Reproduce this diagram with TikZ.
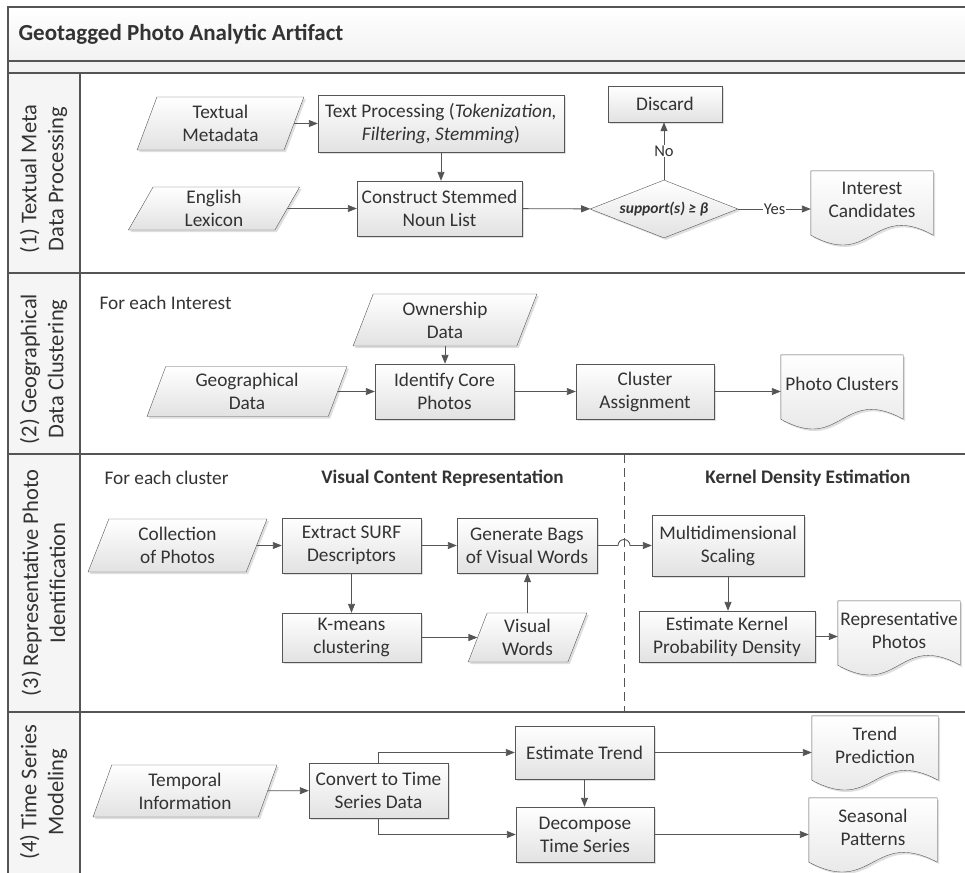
\documentclass[tikz,border=0pt]{standalone}
\usepackage{fontspec}
\setmainfont{Carlito}
\usepackage{tikz}
\usetikzlibrary{shapes.geometric, arrows.meta, positioning, calc, backgrounds, shadows}
\definecolor{lineclr}{HTML}{555555}
\definecolor{textclr}{HTML}{333333}
\definecolor{boxbot}{HTML}{E2E2E2}
\definecolor{laneclr}{HTML}{F2F2F2}

% wavy document outline round a named node
\newcommand{\docshape}[1]{%
  \draw[docpath] (#1.north west) -- (#1.north east) -- ($(#1.south east)+(0pt,-6pt)$)
    .. controls ($(#1.south east)!0.5!(#1.south west)+(0pt,28pt)$)
    and ($(#1.south east)!0.5!(#1.south west)+(0pt,-40pt)$)
    .. ($(#1.south west)+(0pt,-6pt)$) -- cycle;}

\begin{document}
\begin{tikzpicture}[x=1pt, y=-1pt,
  font=\fontsize{19.3}{23}\selectfont, text=textclr,
  shade/.style={top color=white, bottom color=boxbot,
    drop shadow={shadow xshift=2pt, shadow yshift=-2pt, opacity=0.25}},
  proc/.style={rectangle, draw=lineclr, shade, align=center, inner sep=1pt,
    minimum width=139pt, minimum height=55pt},
  data/.style={trapezium, trapezium left angle=72, trapezium right angle=108,
    trapezium stretches=true, draw=lineclr, shade, align=center, inner sep=0pt},
  decision/.style={diamond, draw=lineclr, shade, aspect=2.5, inner sep=0pt,
    minimum width=148pt, minimum height=58pt, font=\fontsize{15.5}{19}\selectfont\bfseries\itshape},
  docnode/.style={rectangle, align=center, inner sep=1pt,
    minimum width=122pt, minimum height=58pt},
  docpath/.style={draw=lineclr, shade},
  flow/.style={draw=lineclr, line width=0.9pt, -{Triangle[length=9pt, width=7pt]}},
  edgelabel/.style={fill=white, inner sep=1pt, font=\fontsize{16.5}{20}\selectfont},
  frameline/.style={draw=lineclr, line width=1.2pt},
  dashline/.style={draw=lineclr, line width=1pt, dash pattern=on 9pt off 5pt},
  lanelabel/.style={rotate=90, align=center, font=\fontsize{22.5}{27}\selectfont},
  headtext/.style={font=\fontsize{19.2}{23}\selectfont\bfseries},
  freetext/.style={anchor=west}]

\useasboundingbox (0,0) rectangle (965,872);

% frame and lanes
\shade[top color=white, bottom color=laneclr] (8,7) rectangle (980,61);
\fill[laneclr] (8,61) rectangle (980,73);
\fill[black!4] (8,73) rectangle (80,880);
\draw[frameline] (8,880) -- (8,7) -- (980,7);
\foreach \y in {61,73,273,454,712}
  \draw[frameline] (8,\y) -- (980,\y);
\draw[frameline] (80,73) -- (80,880);
\coordinate (divtop) at (624,454);
\coordinate (divbot) at (624,712);
\draw[dashline] (divtop) -- (divbot);

\node[anchor=west, font=\fontsize{23}{27}\selectfont\bfseries] (title) at (15,34) {Geotagged Photo Analytic Artifact};
\node[lanelabel] (lane1) at (43.5,179) {(1) Textual Meta\\Data Processing};
\node[lanelabel] (lane2) at (43.5,369) {(2) Geographical\\Data Clustering};
\node[lanelabel] (lane3) at (43.5,583) {(3) Representative Photo\\Identification};
\node[lanelabel] (lane4) at (43.5,792) {(4) Time Series\\Modeling};

% (1) textual meta data
\node[data, minimum width=167pt, minimum height=53pt] (txtmeta) at (220.5,123.5) {Textual\\Metadata};
\node[proc, minimum width=246pt, minimum height=57pt] (textproc) at (441,123.5) {Text Processing (\textit{Tokenization,}\\\textit{Filtering, Stemming})};
\node[data, minimum width=172pt, minimum height=43pt] (lexicon) at (214,208.5) {English\\Lexicon};
\node[proc, minimum width=165pt] (stemlist) at (439.5,208.5) {Construct Stemmed\\Noun List};
\node[decision] (check) at (664,209) {\makebox[0pt]{support(s) ≥ β}};
\node[proc, minimum width=114pt, minimum height=36pt] (discard) at (665,104) {Discard};
\node[docnode] (intcand) at (872,200) {Interest\\Candidates};

% (2) geographical clustering
\node[freetext] (forint) at (96,303) {For each Interest};
\node[data, minimum width=184pt, minimum height=52pt] (ownership) at (445,320) {Ownership\\Data};
\node[data, minimum width=200pt, minimum height=50pt] (geodata) at (247,391.5) {Geographical\\Data};
\node[proc] (corephotos) at (444.5,391.5) {Identify Core\\Photos};
\node[proc, minimum width=138pt] (clusterassign) at (645,391.5) {Cluster\\Assignment};
\node[docnode] (photoclusters) at (842,384) {Photo Clusters};

% (3) representative photos
\node[freetext] (forclus) at (101,478) {For each cluster};
\node[headtext] (vcrhead) at (442.5,478) {Visual Content Representation};
\node[headtext] (kdehead) at (808,478) {Kernel Density Estimation};
\node[data, minimum width=179pt, minimum height=53pt] (photos) at (177.5,545.5) {Collection\\of Photos};
\node[proc] (surf) at (351.5,545.5) {Extract SURF\\Descriptors};
\node[proc, minimum height=49pt] (kmeans) at (351.5,637.5) {K-means\\clustering};
\node[proc, minimum width=140pt] (bags) at (527,545.5) {Generate Bags\\of Visual Words};
\node[data, minimum width=119pt, minimum height=49pt] (vwords) at (527.5,637.5) {Visual\\Words};
\node[proc, minimum width=152pt, minimum height=61pt] (mds) at (728,545.5) {Multidimensional\\Scaling};
\node[proc, minimum width=176pt, minimum height=51pt] (kde) at (727,636.5) {Estimate Kernel\\Probability Density};
\node[docnode] (reppho) at (899,630) {Representative\\Photos};

% (4) time series
\node[data, minimum width=184pt, minimum height=52pt] (temporal) at (185,791) {Temporal\\Information};
\node[proc] (convert) at (378.5,790.5) {Convert to Time\\Series Data};
\node[proc, minimum height=53pt] (trend) at (584.5,752.5) {Estimate Trend};
\node[proc, minimum width=138pt] (decompose) at (585,834.5) {Decompose\\Time Series};
\node[docnode, minimum width=126pt] (trendpred) at (875,745) {Trend\\Prediction};
\node[docnode, minimum width=128pt] (seasonal) at (873,827) {Seasonal\\Patterns};

\begin{scope}[on background layer]
  \foreach \d in {intcand, photoclusters, reppho, trendpred, seasonal}
    \docshape{\d};
\end{scope}

% connectors
\draw[flow] (txtmeta) -- (textproc);
\draw[flow] (textproc.south) -- (textproc.south |- stemlist.north);
\draw[flow] (lexicon) -- (stemlist);
\draw[flow] (stemlist) -- (check);
\draw[flow] (check.north) -- node[edgelabel] {No} (check.north |- discard.south);
\draw[flow] (check.east) -- node[edgelabel] {Yes} (check.east -| intcand.west);
\draw[flow] (ownership.south) -- (ownership.south |- corephotos.north);
\draw[flow] (geodata) -- (corephotos);
\draw[flow] (corephotos) -- (clusterassign);
\draw[flow] (clusterassign.east) -- (clusterassign.east -| photoclusters.west);
\draw[flow] (photos) -- (surf);
\draw[flow] (surf) -- (bags);
\draw[flow] (bags.east) -- ($(bags.east -| divtop)+(-6pt,0pt)$) arc[start angle=180, end angle=0, radius=6pt] -- (mds.west);
\draw[flow] (surf) -- (kmeans);
\draw[flow] (kmeans) -- (vwords);
\draw[flow] (vwords.north) -- (vwords.north |- bags.south);
\draw[flow] (mds.south) -- (mds.south |- kde.north);
\draw[flow] (kde.east) -- (kde.east -| reppho.west);
\draw[flow] (temporal) -- (convert);
\draw[flow] (convert.north) |- (trend.west);
\draw[flow] (convert.south) |- (decompose.west);
\draw[flow] (trend.south) -- (trend.south |- decompose.north);
\draw[flow] (trend.east) -- (trend.east -| trendpred.west);
\draw[flow] (decompose.east) -- (decompose.east -| seasonal.west);
\end{tikzpicture}
\end{document}
